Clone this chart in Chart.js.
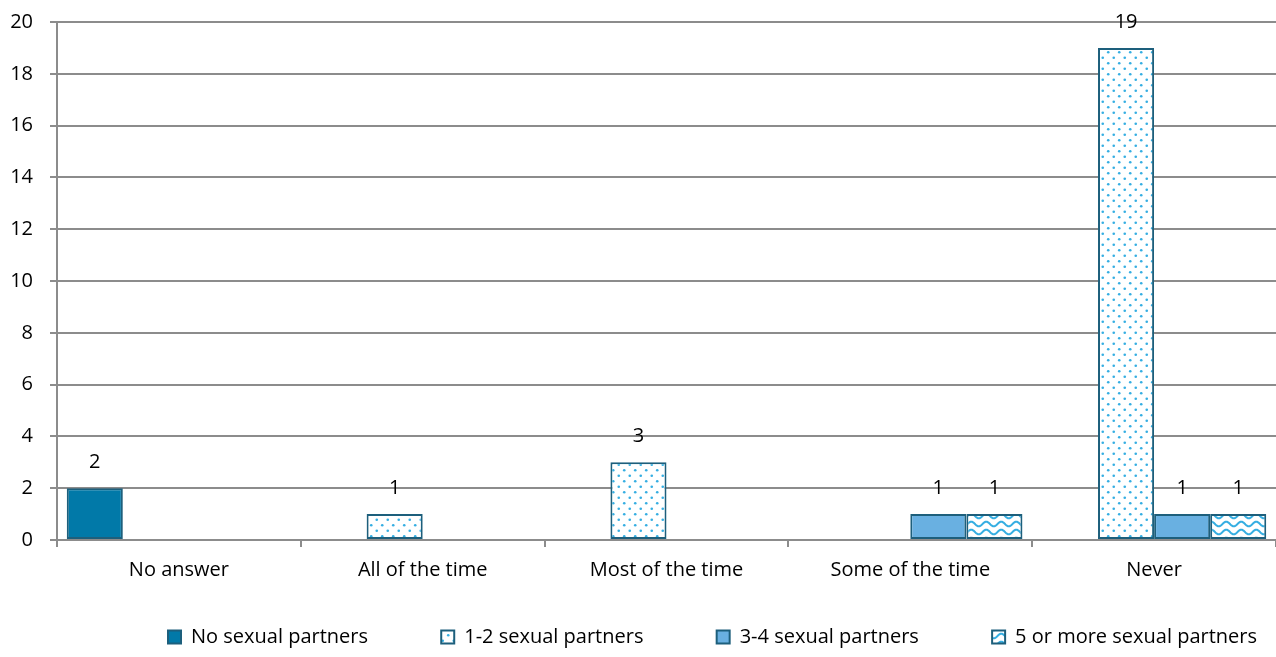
<!DOCTYPE html>
<html><head><meta charset="utf-8">
<script src="https://cdn.jsdelivr.net/npm/chart.js@4/dist/chart.umd.min.js"></script>
<style>html,body{margin:0;padding:0;background:#fff}#wrap{width:1276px;height:657px}</style>
</head><body><div id="wrap"><canvas id="c"></canvas></div>
<script>
const categories = ["No answer","All of the time","Most of the time","Some of the time","Never"];
const seriesNames = ["No sexual partners","1-2 sexual partners","3-4 sexual partners","5 or more sexual partners"];
const noPartners = [2, null, null, null, null];
const partners12 = [null, 1, 3, null, 19];
const partners34 = [null, null, null, 1, 1];
const partners5plus = [null, null, null, 1, 1];
const yTicks = [0,2,4,6,8,10,12,14,16,18,20];

const FONT = "'Open Sans', sans-serif";
const FS = 20;
const BOX = 13;

// legend spacing: match reference span (first box at 163, last text end at 1252)
const mctx = document.createElement('canvas').getContext('2d');
mctx.font = FS + 'px ' + FONT;
const textSum = seriesNames.reduce((s,t)=>s+mctx.measureText(t).width,0);
const itemSum = textSum + seriesNames.length*(BOX+FS/2);
const LEG_PAD = Math.max(10,(1089 - itemSum)/3);
const LEG_SHIFT = 163 - (1276 - (itemSum + 3*LEG_PAD))/2;
const LEG_ROW_TOP = 627;

function dotPattern(){
  const w=11,h=11;
  const c=document.createElement('canvas');c.width=w;c.height=h;const x=c.getContext('2d');
  x.fillStyle='#fff';x.fillRect(0,0,w,h);
  x.fillStyle='#35AEE2';
  [[2.75,2.75],[8.25,8.25]].forEach(p=>{x.beginPath();x.arc(p[0],p[1],1.3,0,Math.PI*2);x.fill();});
  return x.createPattern(c,'repeat');
}
function wavePattern(){
  const w=15,h=8;
  const c=document.createElement('canvas');c.width=w;c.height=h;const x=c.getContext('2d');
  x.fillStyle='#fff';x.fillRect(0,0,w,h);
  x.strokeStyle='#35AEE2';x.lineWidth=2;x.beginPath();
  for(let i=-1;i<=w+1;i+=0.5){const y=4+2.3*Math.sin(i/w*Math.PI*2);if(i===-1)x.moveTo(i,y);else x.lineTo(i,y);}
  x.stroke();
  return x.createPattern(c,'repeat');
}

const labelPlugin={id:'vals',
  afterLayout(chart){
    const lg=chart.legend; if(!lg) return;
    lg.left+=LEG_SHIFT; lg.right+=LEG_SHIFT;
    lg.top=LEG_ROW_TOP-LEG_PAD; lg.bottom=chart.height; lg.height=lg.bottom-lg.top;
  },
  afterDatasetsDraw(chart){
  const ctx=chart.ctx;ctx.save();ctx.font=FS+'px '+FONT;ctx.fillStyle='#000';ctx.textAlign='center';ctx.textBaseline='middle';
  chart.data.datasets.forEach((ds,i)=>{const m=chart.getDatasetMeta(i);
    m.data.forEach((el,j)=>{const v=ds.data[j];if(v===null||v===undefined)return;ctx.fillText(String(v),el.x,el.y-26);});});
  ctx.restore();}};

const border='#1D5F7C';
new Chart(document.getElementById('c'),{
  type:'bar',
  data:{labels:categories,datasets:[
    {label:seriesNames[0],data:noPartners,backgroundColor:'#0179A8',borderColor:border,borderWidth:2},
    {label:seriesNames[1],data:partners12,backgroundColor:dotPattern(),borderColor:border,borderWidth:2},
    {label:seriesNames[2],data:partners34,backgroundColor:'#69B0E1',borderColor:border,borderWidth:2},
    {label:seriesNames[3],data:partners5plus,backgroundColor:wavePattern(),borderColor:border,borderWidth:2}
  ]},
  options:{
    responsive:true,maintainAspectRatio:false,animation:false,
    datasets:{bar:{categoryPercentage:0.92,barPercentage:1.0,borderSkipped:false}},
    layout:{padding:{top:0,right:0,left:10,bottom:0}},
    scales:{
      x:{grid:{display:true,drawOnChartArea:false,drawTicks:true,tickLength:7,color:'#8C8C8C',lineWidth:2,offset:true},
         border:{display:true,color:'#8C8C8C',width:2},
         ticks:{font:{family:FONT,size:FS},color:'#000',padding:11},
         afterFit(s){ s.height = 45; }},
      y:{min:0,max:20,afterBuildTicks(ax){ax.ticks=yTicks.map(v=>({value:v}));},
         grid:{color:'#8C8C8C',lineWidth:2,tickLength:7},
         border:{display:true,color:'#8C8C8C',width:2},
         ticks:{font:{family:FONT,size:FS},color:'#000',padding:17},
         afterFit(s){ s.width = 47; s.paddingTop = 22; s.paddingBottom = 0; }}
    },
    plugins:{
      legend:{position:'bottom',maxHeight:72,labels:{font:{family:FONT,size:FS},color:'#000',boxWidth:BOX,boxHeight:BOX,padding:LEG_PAD}},
      tooltip:{enabled:false}
    }
  },
  plugins:[labelPlugin]
});
</script></body></html>
